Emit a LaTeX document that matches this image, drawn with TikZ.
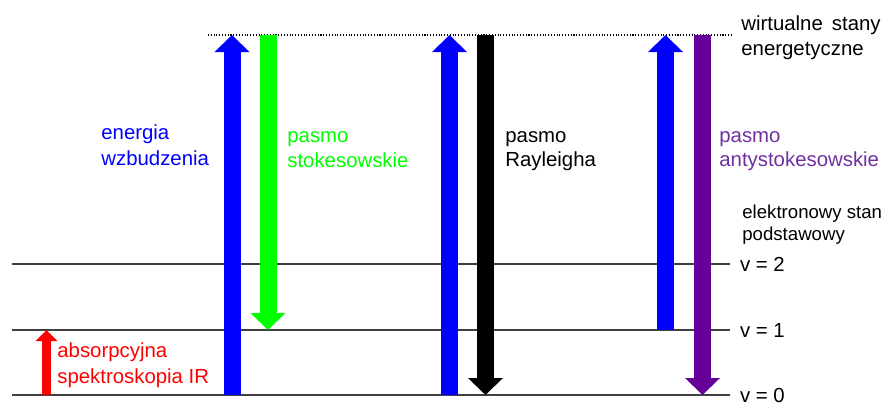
\documentclass[tikz,border=0pt]{standalone}
\usepackage{fontspec}
\setmainfont{Liberation Sans}
\usetikzlibrary{arrows.meta}
\definecolor{stokes}{RGB}{0,255,0}
\definecolor{antistokes}{RGB}{102,0,153}
\definecolor{antistokestext}{RGB}{112,48,160}
\begin{document}
\begin{tikzpicture}[x=0.02cm,y=-0.02cm,
	level/.style={black!75,line width=0.8pt},
	band/.style={line width=0.34cm,-{Triangle[width=0.68cm,length=0.34cm]}},
	irband/.style={line width=0.2cm,-{Triangle[width=0.42cm,length=0.22cm]}},
	txt/.style={anchor=base west,inner sep=0pt,font=\fontsize{11.6}{14}\selectfont},
	smalltxt/.style={txt,font=\fontsize{10.6}{12.5}\selectfont},
	vlabel/.style={anchor=west,inner xsep=5.5pt,inner ysep=0pt,font=\fontsize{11.6}{14}\selectfont}]
	\useasboundingbox (0,0) rectangle (885,403);

	% levels
	\coordinate (l0) at (12,395);
	\coordinate (l1) at (12,330);
	\coordinate (l2) at (12,264);
	\coordinate (virt) at (208,35);
	\coordinate (virtend) at (732,35);
	\node[vlabel] (v0) at (730,395) {v = 0};
	\node[vlabel] (v1) at (730,330) {v = 1};
	\node[vlabel] (v2) at (730,264) {v = 2};
	\draw[level] (l0) -- (v0.west);
	\draw[level] (l1) -- (v1.west);
	\draw[level] (l2) -- (v2.west);
	\draw[densely dotted,line width=0.6pt] (virt) -- (virtend);

	\node[txt] (virta) at (741,30) {wirtualne\ \,stany};
	\node[txt] (virtb) at (741,55) {energetyczne};
	\node[smalltxt] (grounda) at (742,218) {elektronowy stan};
	\node[smalltxt] (groundb) at (742,240) {podstawowy};

	% columns
	\coordinate (cir) at (46.5,0);
	\coordinate (c1) at (232,0);
	\coordinate (c2) at (268,0);
	\coordinate (c3) at (449.5,0);
	\coordinate (c4) at (485.5,0);
	\coordinate (c5) at (665.5,0);
	\coordinate (c6) at (702.5,0);

	\draw[irband,red] (cir |- l0) -- (cir |- l1);
	\draw[band,blue] (c1 |- l0) -- (c1 |- virt);
	\draw[band,stokes] (c2 |- virt) -- (c2 |- l1);
	\draw[band,blue] (c3 |- l0) -- (c3 |- virt);
	\draw[band,black] (c4 |- virt) -- (c4 |- l0);
	\draw[band,blue] (c5 |- l1) -- (c5 |- virt);
	\draw[band,antistokes] (c6 |- virt) -- (c6 |- l0);

	\node[txt,red] (ira) at (57,357) {absorpcyjna};
	\node[txt,red] (irb) at (57,383) {spektroskopia IR};
	\node[txt,blue] (exca) at (101,139) {energia};
	\node[txt,blue] (excb) at (101,165) {wzbudzenia};
	\node[txt,stokes] (stka) at (287,142) {pasmo};
	\node[txt,stokes] (stkb) at (287,167) {stokesowskie};
	\node[txt] (rayla) at (505,142) {pasmo};
	\node[txt] (raylb) at (505,166) {Rayleigha};
	\node[txt,antistokestext] (astka) at (719,142) {pasmo};
	\node[txt,antistokestext] (astkb) at (719,166) {antystokesowskie};
\end{tikzpicture}
\end{document}
